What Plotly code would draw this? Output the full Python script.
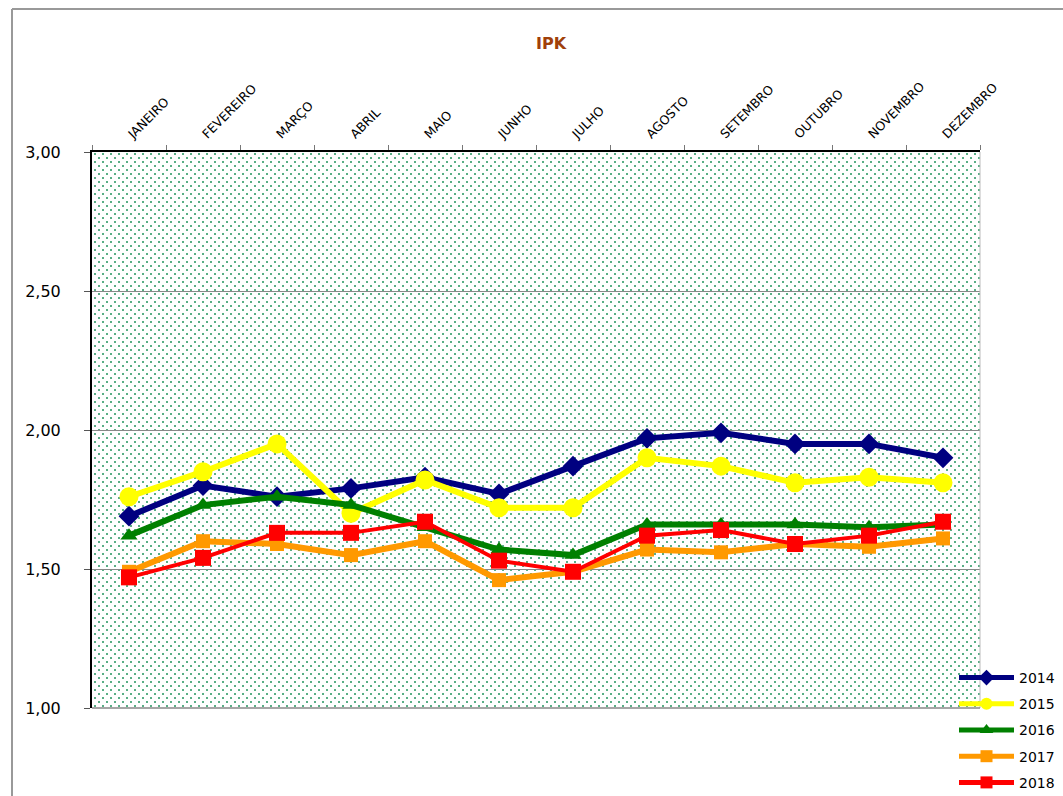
import base64
import plotly.graph_objects as go

months = ["JANEIRO", "FEVEREIRO", "MARÇO", "ABRIL", "MAIO", "JUNHO",
          "JULHO", "AGOSTO", "SETEMBRO", "OUTUBRO", "NOVEMBRO", "DEZEMBRO"]

ipk_2014 = [1.69, 1.80, 1.76, 1.79, 1.83, 1.77, 1.87, 1.97, 1.99, 1.95, 1.95, 1.90]
ipk_2015 = [1.76, 1.85, 1.95, 1.70, 1.82, 1.72, 1.72, 1.90, 1.87, 1.81, 1.83, 1.81]
ipk_2016 = [1.62, 1.73, 1.76, 1.73, 1.65, 1.57, 1.55, 1.66, 1.66, 1.66, 1.65, 1.66]
ipk_2017 = [1.49, 1.60, 1.59, 1.55, 1.60, 1.46, 1.49, 1.57, 1.56, 1.59, 1.58, 1.61]
ipk_2018 = [1.47, 1.54, 1.63, 1.63, 1.67, 1.53, 1.49, 1.62, 1.64, 1.59, 1.62, 1.67]

y_ticks = [1.0, 1.5, 2.0, 2.5, 3.0]

series = [
    ("2014", ipk_2014, "#000080", "diamond", 16, 6),
    ("2015", ipk_2015, "#FFFF00", "circle", 19, 6),
    ("2016", ipk_2016, "#008000", "triangle-up", 15, 6),
    ("2017", ipk_2017, "#FF9900", "square", 14, 6),
    ("2018", ipk_2018, "#FF0000", "square", 16, 4),
]

fig = go.Figure()
for name, vals, color, sym, msize, lw in series:
    fig.add_trace(go.Scatter(
        x=months, y=vals, name=name, mode="lines+markers",
        line=dict(color=color, width=lw),
        marker=dict(symbol=sym, size=msize, color=color),
        legendgroup=name,
    ))

# dotted background pattern
W, H = 888, 556
svg = (f'<svg xmlns="http://www.w3.org/2000/svg" width="{W}" height="{H}" viewBox="0 0 {W} {H}">'
       '<defs><pattern id="p" width="8" height="8" patternUnits="userSpaceOnUse">'
       '<rect x="2" y="1" width="2" height="2" fill="#5aae86"/>'
       '<rect x="6" y="5" width="2" height="2" fill="#5aae86"/>'
       '</pattern></defs>'
       f'<rect width="{W}" height="{H}" fill="white"/>'
       f'<rect width="{W}" height="{H}" fill="url(#p)"/></svg>')
src = "data:image/svg+xml;base64," + base64.b64encode(svg.encode()).decode()

fig.update_layout(
    width=1063, height=796,
    margin=dict(l=92, r=83, t=152, b=88, autoexpand=False),
    paper_bgcolor="white",
    plot_bgcolor="rgba(0,0,0,0)",
    separators=",.",
    font=dict(family="DejaVu Sans", color="black"),
    title=dict(text="<b>IPK</b>", x=551 / 1063, xanchor="center",
               y=1 - 43 / 796, yanchor="middle",
               font=dict(size=16, color="#A0400A", family="DejaVu Sans")),
    showlegend=True,
    legend=dict(x=(954 - 92) / 888, xanchor="left", y=(708 - 662) / 556, yanchor="top",
                bgcolor="rgba(0,0,0,0)", font=dict(size=14), tracegroupgap=5,
                itemwidth=55, itemsizing="constant"),
    images=[dict(source=src, xref="paper", yref="paper", x=0, y=1, sizex=1, sizey=1,
                 sizing="stretch", layer="below", xanchor="left", yanchor="top")],
    shapes=[
        dict(type="line", xref="paper", yref="paper", x0=1, x1=1, y0=0, y1=1,
             line=dict(color="#BBBBBB", width=1)),
        dict(type="line", xref="paper", yref="paper", x0=0, x1=1, y0=0, y1=0,
             line=dict(color="#888888", width=1.5)),
        dict(type="line", xref="paper", yref="paper", x0=(12 - 92) / 888, x1=(12 - 92) / 888,
             y0=-0.2, y1=(708 - 9) / 556, line=dict(color="#999999", width=2)),
        dict(type="line", xref="paper", yref="paper", x0=(12 - 92) / 888, x1=1.2,
             y0=(708 - 9) / 556, y1=(708 - 9) / 556, line=dict(color="#999999", width=2)),
    ],
)

fig.update_xaxes(
    type="category", side="top", range=[-0.5, 11.5], automargin=False,
    showline=True, linecolor="black", linewidth=2,
    ticks="outside", tickson="boundaries", ticklen=5, tickcolor="#777777",
    showgrid=False, tickangle=-45, tickfont=dict(size=12.5), ticklabelstandoff=4,
)
fig.update_yaxes(
    range=[1, 3], tickvals=y_ticks, tickformat=".2f", automargin=False,
    showline=True, linecolor="black", linewidth=2,
    ticks="outside", ticklen=6, tickcolor="#555555", ticklabelstandoff=20,
    showgrid=True, gridcolor="#888888", gridwidth=1,
    tickfont=dict(size=16), zeroline=False,
)

fig.write_html("out.html", config={"displayModeBar": False},
               post_script="document.body.style.margin='0';")
